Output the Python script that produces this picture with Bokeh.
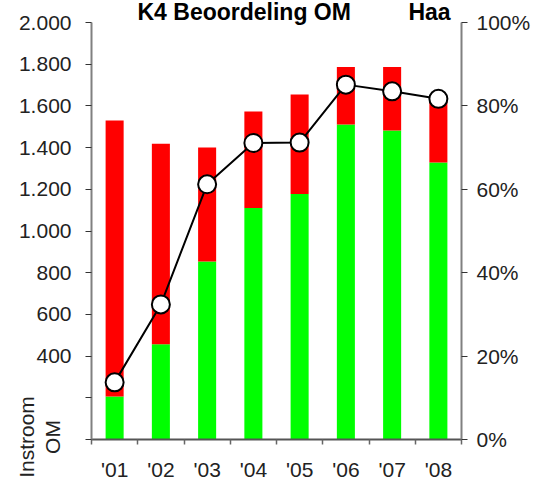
from bokeh.plotting import figure
from bokeh.models import (Range1d, LinearAxis, FixedTicker, NumeralTickFormatter,
                          ColumnDataSource)
from bokeh.embed import file_html
from bokeh.resources import INLINE

# ---- data ----
years = ["'01", "'02", "'03", "'04", "'05", "'06", "'07", "'08"]
goed = [206, 457, 854, 1110, 1177, 1511, 1482, 1329]          # green part
totaal = [1530, 1419, 1400, 1573, 1655, 1786, 1786, 1639]     # bar total
percentage = [0.137, 0.324, 0.612, 0.711, 0.712, 0.851, 0.835, 0.817]

left_ticks = [0, 200, 400, 600, 800, 1000, 1200, 1400, 1600, 1800, 2000]
left_tick_labels = ["", "", "400", "600", "800", "1.000", "1.200", "1.400",
                    "1.600", "1.800", "2.000"]
right_ticks = [0, 0.2, 0.4, 0.6, 0.8, 1.0]

title_left = "K4 Beoordeling OM"
title_right = "Haa"
ylabel_lines = ["Instroom", "OM"]

# ---- derived ----
niet_goed = [t - g for t, g in zip(totaal, goed)]
centers = [i + 0.5 for i in range(len(years))]
bounds = [float(i) for i in range(len(years) + 1)]

src = ColumnDataSource(dict(x=centers, goed=goed, niet_goed=niet_goed, pct=percentage))

FONT = "Liberation Sans"

p = figure(frame_width=370, frame_height=417,
           x_range=Range1d(0, len(years)), y_range=Range1d(0, 2000),
           output_backend="svg", toolbar_location=None,
           min_border_left=91, min_border_right=80,
           min_border_top=22, min_border_bottom=45)
p.outline_line_color = None
p.xgrid.visible = False
p.ygrid.visible = False
p.background_fill_color = "white"
p.border_fill_color = "white"

# title
p.title.text = title_left + "\u00a0" * 9 + title_right
p.title.text_font = FONT
p.title.text_font_size = "23px"
p.title.text_font_style = "bold"
p.title.text_color = "black"
p.title.align = "left"
p.title.offset = 46
p.title.vertical_align = "top"
p.title.standoff = -8

p.extra_y_ranges = {"pct": Range1d(0, 1)}

# bars
p.vbar_stack(["goed", "niet_goed"], x="x", width=0.39, source=src,
             color=["#00FF00", "#FF0000"], line_color=None)

# line
p.line("x", "pct", source=src, y_range_name="pct", line_color="black", line_width=2)
p.scatter("x", "pct", source=src, y_range_name="pct", size=18,
          fill_color="white", line_color="black", line_width=2)

# left axis
ya = p.yaxis[0]
ya.ticker = FixedTicker(ticks=left_ticks)
ya.major_label_overrides = {t: l for t, l in zip(left_ticks, left_tick_labels)}
ya.axis_line_color = "#808080"
ya.axis_line_width = 2
ya.major_tick_in = 0
ya.major_tick_out = 6
ya.major_tick_line_color = "#333333"
ya.minor_tick_line_color = None
ya.major_label_text_font = FONT
ya.major_label_text_font_size = "21px"
ya.major_label_text_color = "#222222"
ya.major_label_standoff = 14

# right axis
ra = LinearAxis(y_range_name="pct", ticker=FixedTicker(ticks=right_ticks),
                formatter=NumeralTickFormatter(format="0%"))
ra.axis_line_color = "#808080"
ra.axis_line_width = 2
ra.major_tick_in = 0
ra.major_tick_out = 6
ra.major_tick_line_color = "#333333"
ra.minor_tick_line_color = None
ra.major_label_text_font = FONT
ra.major_label_text_font_size = "21px"
ra.major_label_text_color = "#222222"
ra.major_label_standoff = 9
p.add_layout(ra, "right")

# bottom axis
xa = p.xaxis[0]
xa.ticker = FixedTicker(ticks=centers, minor_ticks=bounds)
xa.major_label_overrides = {c: y for c, y in zip(centers, years)}
xa.axis_line_color = "#555555"
xa.axis_line_width = 2
xa.major_tick_in = 0
xa.major_tick_out = 0
xa.major_tick_line_color = None
xa.minor_tick_in = 0
xa.minor_tick_out = 5
xa.minor_tick_line_color = "#666666"
xa.minor_tick_line_width = 1.5
xa.major_label_text_font = FONT
xa.major_label_text_font_size = "21px"
xa.major_label_text_color = "#222222"
xa.major_label_standoff = 13

html = file_html(p, INLINE)

# rotated two-line y-axis caption at the bottom-left (annotations outside the
# frame are clipped in this renderer, so it is placed as page text over the plot)
ylabel_div = (
    '<div style="position:absolute;left:-10px;top:411px;width:100px;height:52px;'
    'transform:rotate(-90deg);transform-origin:50% 50%;'
    "font-family:'Liberation Sans',Arial,sans-serif;font-size:21px;line-height:26px;"
    'color:#222222;text-align:center;white-space:nowrap;z-index:10;">'
    + "<br>".join(ylabel_lines) + "</div>"
)
html = html.replace("</body>", ylabel_div + "\n</body>")

open("out.html", "w").write(html)
